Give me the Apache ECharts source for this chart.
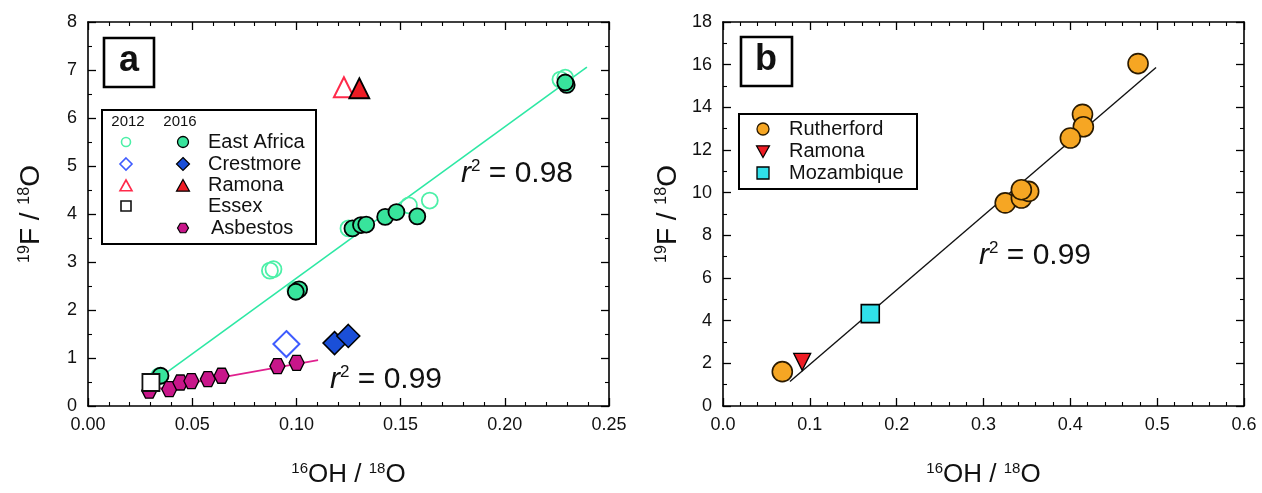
<!DOCTYPE html>
<html><head><meta charset="utf-8">
<script src="https://cdn.jsdelivr.net/npm/echarts@6/dist/echarts.min.js"></script>
<style>html,body{margin:0;padding:0;background:#fff}#c{width:1262px;height:493px}</style>
</head><body><div id="c"></div>
<script>
const FONT = '"Liberation Sans", Arial, Helvetica, sans-serif';

// ---------- Panel a data ----------
const eastAfrica2012 = [[0.2267,6.80],[0.2290,6.84],[0.0890,2.85],[0.0873,2.82],[0.1540,4.18],[0.1640,4.28],[0.1250,3.70],[0.0995,2.42],[0.0340,0.62]];
const eastAfrica2016 = [[0.2297,6.69],[0.2290,6.74],[0.0348,0.63],[0.1013,2.43],[0.0997,2.38],[0.1269,3.70],[0.1310,3.77],[0.1335,3.78],[0.1426,3.94],[0.1480,4.04],[0.1580,3.95]];
const crestmore2012 = [[0.0952,1.29]];
const crestmore2016 = [[0.1183,1.31],[0.1249,1.46]];
const ramona2012 = [[0.1228,6.64]];
const ramona2016 = [[0.1302,6.62]];
const essex2012 = [[0.0302,0.49]];
const asbestos2016 = [[0.0294,0.32],[0.0390,0.35],[0.0443,0.49],[0.0496,0.52],[0.0575,0.56],[0.0641,0.63],[0.0909,0.83],[0.1001,0.90]];
const eastAfricaFit = [[0.0378,0.70],[0.2394,7.06]];
const asbestosFit = [[0.0300,0.33],[0.1104,0.955]];

// ---------- Panel b data ----------
const rutherford = [[0.0683,1.61],[0.478,16.05],[0.414,13.67],[0.415,13.09],[0.400,12.56],[0.325,9.52],[0.3436,9.75],[0.352,10.06],[0.3436,10.14]];
const ramonaB = [[0.0912,2.07]];
const mozambique = [[0.1696,4.33]];
const fitB = [[0.0771,1.15],[0.4987,15.87]];

// ---------- tick settings ----------
const axA_x = {min:0, max:0.25, interval:0.05, minor:5, dec:2};
const axA_y = {min:0, max:8, interval:1, minor:2, dec:null};
const axB_x = {min:0, max:0.6, interval:0.1, minor:5, dec:1};
const axB_y = {min:0, max:18, interval:2, minor:2, dec:null};

const legendA = ['East Africa','Crestmore','Ramona','Essex','Asbestos'];
const legendB = ['Rutherford','Ramona','Mozambique'];

const C = {
  eaFill:'#38e49c', eaOpen:'#4cf0a8', eaLine:'#2de8a4',
  crFill:'#1a4fd8', crOpen:'#3f5cff',
  raFill:'#ee1c24', raOpen:'#ff2a4a',
  asFill:'#c8168a', asLine:'#e0208e',
  ruFill:'#f6a623', moFill:'#30e0ea'
};
const HEX = 'path://M-1,0 L-0.5,-0.866 L0.5,-0.866 L1,0 L0.5,0.866 L-0.5,0.866 Z';

function axis(gridIndex, a, position, showLabel, name, nameGap, isY) {
  const o = {
    type:'value', gridIndex, min:a.min, max:a.max, interval:a.interval, position,
    axisLine:{show:true, onZero:false, lineStyle:{color:'#000', width:1.6}},
    axisTick:{show:true, inside:true, length:8, lineStyle:{color:'#000', width:1.3}},
    minorTick:{show:true, splitNumber:a.minor, length:4, lineStyle:{color:'#000', width:1.1}},
    splitLine:{show:false}, minorSplitLine:{show:false},
    axisLabel:{show:showLabel, fontSize:18, color:'#111', fontFamily:FONT, margin:isY?11:10,
      formatter: v => a.dec==null ? String(Math.round(v)) : v.toFixed(a.dec)}
  };
  if (name) {
    const fs = isY ? 28 : 26, ss = isY ? 16 : 15;
    o.name = name; o.nameLocation = 'middle'; o.nameGap = nameGap;
    o.nameTextStyle = {fontSize:fs, color:'#111', fontFamily:FONT,
      rich:{s:{fontSize:ss, fontFamily:FONT, color:'#111', padding:[0,0,13,0]}}};
  }
  return o;
}

const sc = (name, data, xi, yi, symbol, size, fill, stroke, bw, z, rot) => ({
  name, type:'scatter', data, xAxisIndex:xi, yAxisIndex:yi, symbol, symbolSize:size,
  symbolRotate: rot||0, z: z||2,
  itemStyle:{color:fill, borderColor:stroke, borderWidth:bw, opacity:1},
  emphasis:{disabled:true}, animation:false
});
const ln = (data, xi, yi, color, w) => ({
  type:'line', data, xAxisIndex:xi, yAxisIndex:yi, symbol:'none', z:1,
  lineStyle:{color, width:w}, animation:false, emphasis:{disabled:true}
});

// ---------- legend / annotation graphics ----------
function gCircle(cx,cy,r,fill,stroke,lw){return {type:'circle',shape:{cx,cy,r},style:{fill,stroke,lineWidth:lw},z:10};}
function gPoly(pts,fill,stroke,lw){return {type:'polygon',shape:{points:pts},style:{fill,stroke,lineWidth:lw},z:10};}
function diamond(cx,cy,r){return [[cx,cy-r],[cx+r,cy],[cx,cy+r],[cx-r,cy]];}
function triUp(cx,cy,r){return [[cx,cy-r],[cx+r,cy+r*0.8],[cx-r,cy+r*0.8]];}
function triDown(cx,cy,r){return [[cx,cy+r],[cx+r,cy-r*0.8],[cx-r,cy-r*0.8]];}
function hex(cx,cy,r){return [[cx-r,cy],[cx-r/2,cy-r*0.866],[cx+r/2,cy-r*0.866],[cx+r,cy],[cx+r/2,cy+r*0.866],[cx-r/2,cy+r*0.866]];}
function gText(x,y,text,size,opts){return Object.assign({type:'text',x,y,z:11,style:Object.assign({text,fontSize:size,fontFamily:FONT,fill:'#111',textVerticalAlign:'middle'},opts||{})});}
const r2rich = {i:{fontStyle:'italic',fontSize:30,fontFamily:FONT,fill:'#111'},s:{fontSize:17,fontFamily:FONT,fill:'#111',padding:[0,0,15,0]}};

const rowsA = [142,164,185,206,228];
const gA = [
  {type:'rect',shape:{x:102,y:110,width:214,height:134},style:{fill:'#fff',stroke:'#000',lineWidth:2},z:9},
  gText(128,122,'2012',15,{textAlign:'center'}),
  gText(180,122,'2016',15,{textAlign:'center'}),
  gCircle(126,rowsA[0],4.5,'#fff',C.eaOpen,1.6),
  gPoly(diamond(126,rowsA[1],6),'#fff',C.crOpen,1.6),
  gPoly(triUp(126,rowsA[2]+1,6),'#fff',C.raOpen,1.6),
  {type:'rect',shape:{x:121,y:rowsA[3]-5,width:10,height:10},style:{fill:'#fff',stroke:'#111',lineWidth:1.6},z:10},
  gCircle(183,rowsA[0],5.5,C.eaFill,'#000',1.3),
  gPoly(diamond(183,rowsA[1],6.5),C.crFill,'#000',1.2),
  gPoly(triUp(183,rowsA[2]+1,6.5),C.raFill,'#000',1.2),
  gPoly(hex(183,rowsA[4],5.5),C.asFill,'#000',1.2),
  gText(208,rowsA[0],legendA[0],20),
  gText(208,rowsA[1],legendA[1],20),
  gText(208,rowsA[2],legendA[2],20),
  gText(208,rowsA[3],legendA[3],20),
  gText(211,rowsA[4],legendA[4],20),
  {type:'rect',shape:{x:104,y:38,width:50,height:49},style:{fill:'#fff',stroke:'#000',lineWidth:2.6},z:9},
  gText(129,61,'a',36,{textAlign:'center',fontWeight:'bold'}),
  gText(461,174,'{i|r}{s|2} = 0.98',30,{rich:r2rich}),
  gText(330,380,'{i|r}{s|2} = 0.99',30,{rich:r2rich})
];
const rowsB = [129,151,173];
const gB = [
  {type:'rect',shape:{x:739,y:114,width:178,height:75},style:{fill:'#fff',stroke:'#000',lineWidth:2},z:9},
  gCircle(763,rowsB[0],6,C.ruFill,'#2a1a00',1.3),
  gPoly(triDown(763,rowsB[1],6.5),C.raFill,'#000',1.2),
  {type:'rect',shape:{x:757,y:rowsB[2]-6,width:12,height:12},style:{fill:C.moFill,stroke:'#000',lineWidth:1.3},z:10},
  gText(789,rowsB[0],legendB[0],20),
  gText(789,rowsB[1],legendB[1],20),
  gText(789,rowsB[2],legendB[2],20),
  {type:'rect',shape:{x:741,y:37,width:51,height:49},style:{fill:'#fff',stroke:'#000',lineWidth:2.6},z:9},
  gText(766,60,'b',36,{textAlign:'center',fontWeight:'bold'}),
  gText(979,256,'{i|r}{s|2} = 0.99',30,{rich:r2rich})
];

const option = {
  backgroundColor:'#fff',
  animation:false,
  grid:[
    {left:88, top:22, width:521, height:390},
    {left:723, top:22, width:521, height:390}
  ],
  xAxis:[
    axis(0, axA_x, 'bottom', true, '{s|16}OH / {s|18}O', 55, false),
    axis(0, axA_x, 'top', false),
    axis(1, axB_x, 'bottom', true, '{s|16}OH / {s|18}O', 55, false),
    axis(1, axB_x, 'top', false)
  ],
  yAxis:[
    axis(0, axA_y, 'left', true, '{s|19}F / {s|18}O', 42, true),
    axis(0, axA_y, 'right', false),
    axis(1, axB_y, 'left', true, '{s|19}F / {s|18}O', 40, true),
    axis(1, axB_y, 'right', false)
  ],
  series:[
    ln(eastAfricaFit, 0, 0, C.eaLine, 1.6),
    ln(asbestosFit, 0, 0, C.asLine, 1.6),
    sc('East Africa 2012', eastAfrica2012, 0, 0, 'circle', 16, 'rgba(255,255,255,0)', C.eaOpen, 1.8, 2),
    sc('Crestmore 2012', crestmore2012, 0, 0, 'diamond', 26, '#fff', C.crOpen, 2, 2),
    sc('Ramona 2012', ramona2012, 0, 0, 'triangle', 20, '#fff', C.raOpen, 2, 2),
    sc('Essex 2012', essex2012, 0, 0, 'rect', 17, '#fff', '#111', 1.8, 4),
    sc('East Africa 2016', eastAfrica2016, 0, 0, 'circle', 16, C.eaFill, '#000', 1.8, 3),
    sc('Crestmore 2016', crestmore2016, 0, 0, 'diamond', 23, C.crFill, '#000', 1.5, 3),
    sc('Ramona 2016', ramona2016, 0, 0, 'triangle', 20, C.raFill, '#000', 1.8, 3),
    sc('Asbestos 2016', asbestos2016, 0, 0, HEX, 15, C.asFill, '#000', 1.3, 3),
    ln(fitB, 2, 2, '#111', 1.4),
    sc('Rutherford', rutherford, 2, 2, 'circle', 20, C.ruFill, '#2a1a00', 1.6, 3),
    sc('Ramona', ramonaB, 2, 2, 'triangle', 17, C.raFill, '#000', 1.3, 3, 180),
    sc('Mozambique', mozambique, 2, 2, 'rect', 18, C.moFill, '#000', 1.6, 3)
  ],
  graphic: gA.concat(gB)
};
const chart = echarts.init(document.getElementById('c'), null, {renderer:'canvas'});
chart.setOption(option);
</script>
</body></html>
